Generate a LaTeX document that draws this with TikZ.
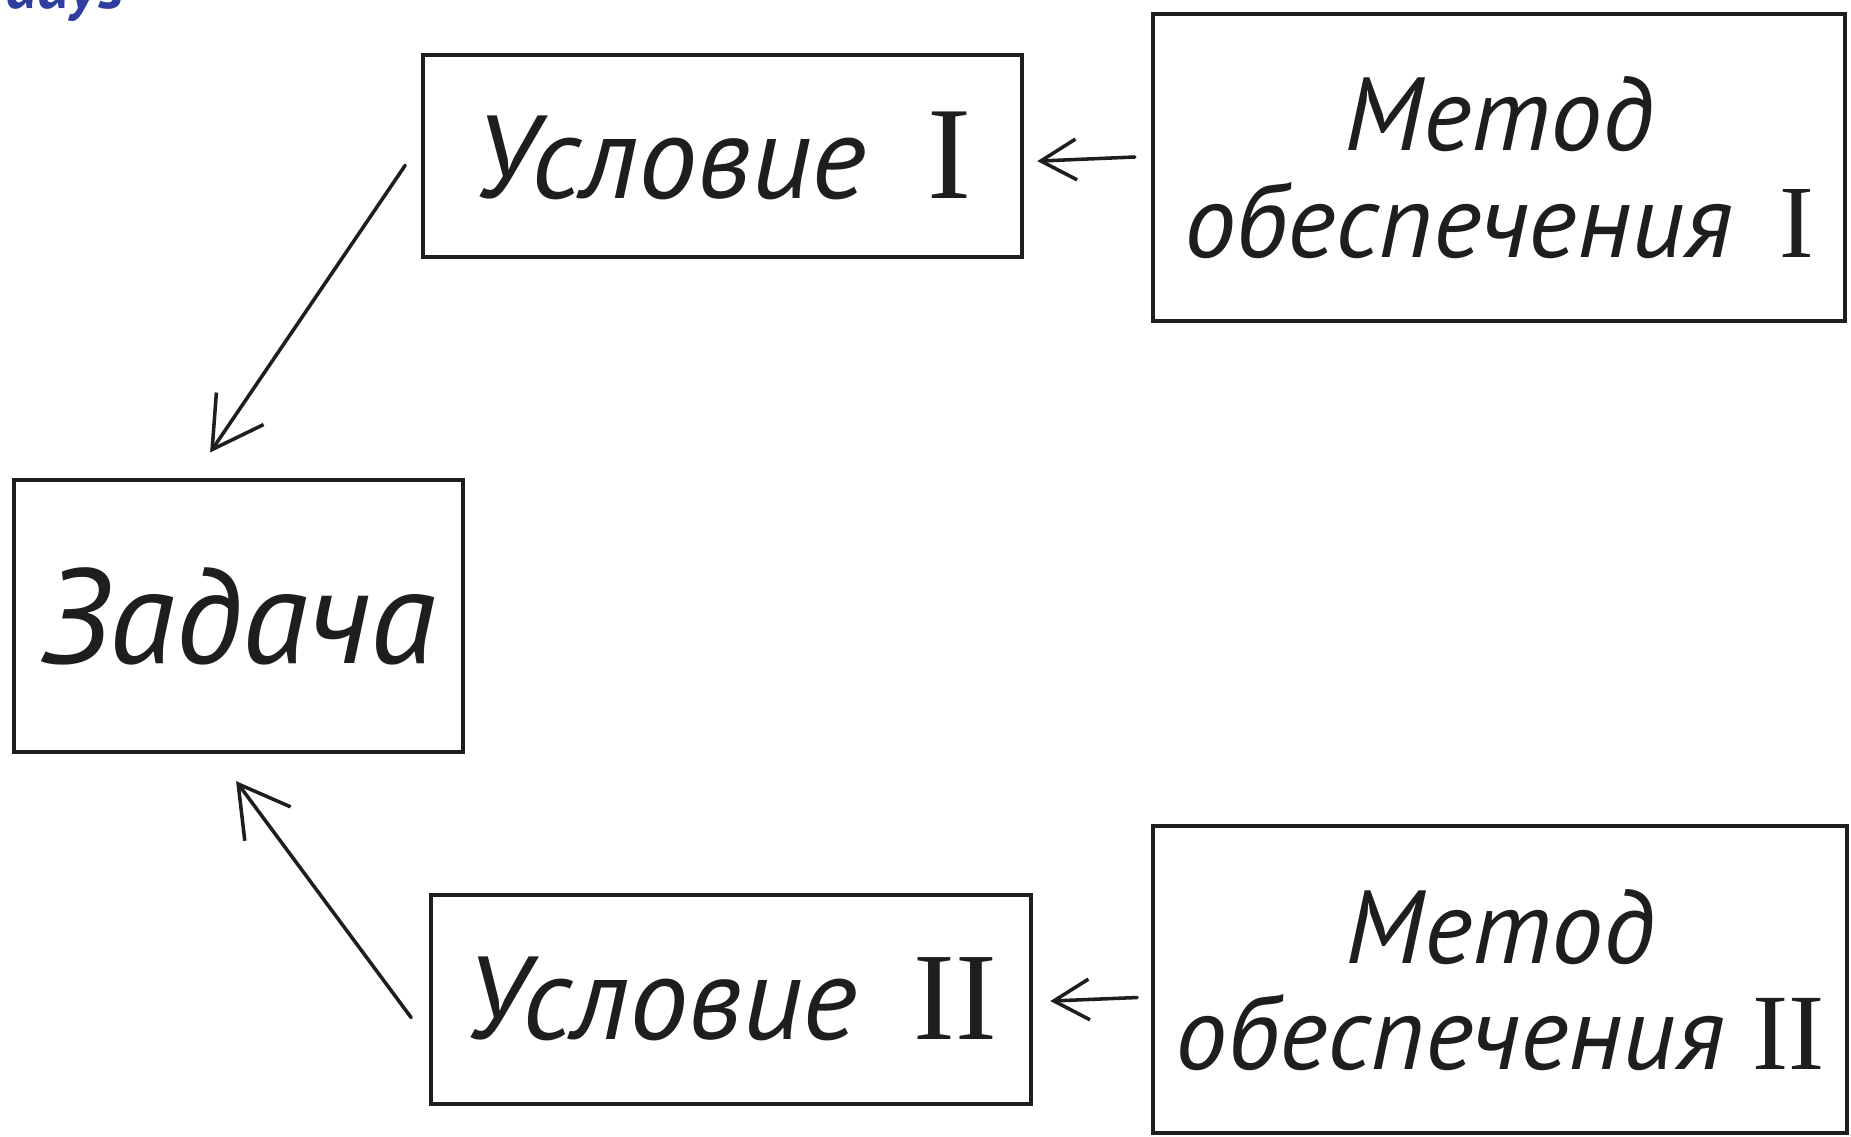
\documentclass[tikz,border=0pt]{standalone}
\usepackage{fontspec}
\setmainfont{PT Sans}
\newfontfamily\numfont{Liberation Serif}
\usetikzlibrary{arrows.meta}
\definecolor{daysblue}{HTML}{2F3E9E}
\definecolor{ink}{HTML}{1E1E1E}
\newcommand{\rnum}[2]{{\upshape\numfont\fontsize{#1}{#1}\selectfont #2}}
\begin{document}
\begin{tikzpicture}[x=0.5pt,y=-0.5pt,
  box/.style={draw=ink, line width=1.7pt, inner sep=0pt, align=center,
    text=ink, font=\itshape\fontsize{50}{45}\selectfont},
  mbox/.style={box, font=\itshape\fontsize{44}{45}\selectfont},
  arr/.style={draw=ink, line width=1.5pt, line cap=round,
    -{Straight Barb[length=#1, width=1.15*#1, line width=1.5pt]}},
  arr/.default=20pt
]
\useasboundingbox (0,0) rectangle (1568,963);
\clip (0,0) rectangle (1568,963);

% cut-off blue title fragment
\node[anchor=base west, inner sep=0pt, text=daysblue,
  font=\bfseries\itshape\fontsize{27}{30}\selectfont] (days) at (4,7) {days};

% boxes
\node[box, minimum width=254pt, minimum height=85.5pt] (c1) at (612,132.5)
  {Условие\hspace{26pt}\rnum{56}{I}};
\node[mbox, minimum width=293pt, minimum height=130pt] (m1) at (1270,142)
  {Метод\\обеспечения\hspace{20pt}\rnum{44}{I}};
\node[box, minimum width=190pt, minimum height=115pt,
  font=\itshape\fontsize{57}{57}\selectfont] (zad) at (202,522) {Задача};
\node[box, minimum width=254pt, minimum height=88.5pt] (c2) at (619,846.5)
  {Условие\hspace{24pt}\rnum{53}{II}};
\node[mbox, minimum width=294pt, minimum height=130pt] (m2) at (1271,830)
  {Метод\\обеспечения\hspace{12pt}\rnum{46}{II}};

% connectors
\draw[arr=21pt] ([xshift=-6.5pt,yshift=-3.75pt]c1.west) -- ([xshift=-12pt,yshift=11pt]zad.north);
\draw[arr=21pt] ([xshift=-7.5pt,yshift=-7.75pt]c2.west) -- ([xshift=-1pt,yshift=-11.5pt]zad.south);
\draw[arr=15pt] ([xshift=-7pt,yshift=4.5pt]m1.west) -- ([xshift=5.5pt,yshift=-2pt]c1.east);
\draw[arr=15pt] ([xshift=-6pt,yshift=-7.5pt]m2.west) -- ([xshift=7.5pt,yshift=-0.75pt]c2.east);
\end{tikzpicture}
\end{document}
